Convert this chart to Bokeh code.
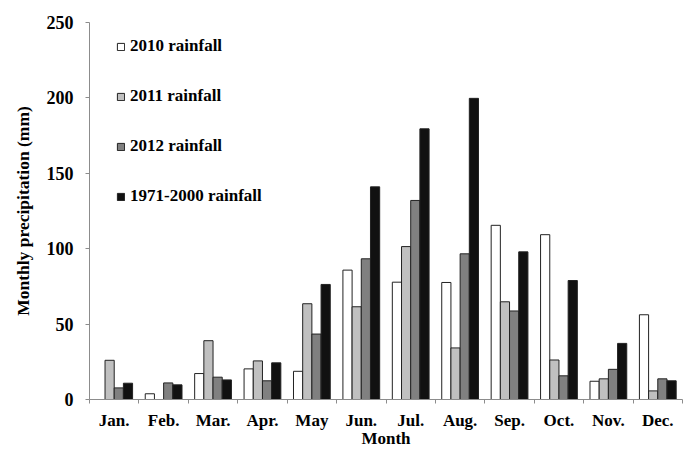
import numpy as np
from bokeh.plotting import figure
from bokeh.models import (Range1d, FixedTicker, Legend, LegendItem, ColumnDataSource)
from bokeh.transform import dodge
from bokeh.embed import file_html
from bokeh.resources import INLINE

months = ["Jan.", "Feb.", "Mar.", "Apr.", "May", "Jun.", "Jul.", "Aug.",
          "Sep.", "Oct.", "Nov.", "Dec."]
rain_2010 = [0, 3.8, 17.2, 20.3, 18.7, 85.8, 77.8, 77.6, 115.5, 109.3, 12.1, 56.2]
rain_2011 = [26.0, 0, 39.0, 25.6, 63.5, 61.5, 101.4, 34.2, 64.8, 26.2, 13.7, 5.7]
rain_2012 = [7.7, 11.0, 14.8, 12.4, 43.4, 93.3, 132.0, 96.6, 58.7, 15.7, 20.0, 13.7]
rain_normal = [10.8, 9.7, 13.0, 24.3, 76.3, 141.0, 179.5, 199.7, 97.9, 78.9, 37.2, 12.4]
series_labels = ["2010 rainfall", "2011 rainfall", "2012 rainfall", "1971-2000 rainfall"]
y_ticks = [0, 50, 100, 150, 200, 250]

FONT = "Liberation Serif"
AXIS_GRAY = "#8c8c8c"

centers = np.arange(len(months)) + 0.5
src = ColumnDataSource(dict(x=centers, a=rain_2010, b=rain_2011, c=rain_2012, d=rain_normal))

p = figure(width=692, height=450, output_backend="svg", toolbar_location=None,
           x_range=Range1d(0, 12), y_range=Range1d(0, 250),
           min_border_left=89, min_border_right=10, min_border_top=22,
           min_border_bottom=50)
p.outline_line_color = None
p.xgrid.grid_line_color = None
p.ygrid.grid_line_color = None

bw = 0.186
offsets = [-1.5 * bw, -0.5 * bw, 0.5 * bw, 1.5 * bw]
fills = ["#ffffff", "#c0c0c0", "#808080", "#111111"]
cols = ["a", "b", "c", "d"]
rends = []
for col, off, fc in zip(cols, offsets, fills):
    r = p.vbar(x=dodge("x", off), top=col, width=bw, bottom=0, source=src,
               fill_color=fc, line_color="#222222", line_width=1)
    rends.append(r)

# x axis
p.xaxis.ticker = FixedTicker(ticks=list(centers), minor_ticks=list(range(0, 13)))
p.xaxis.major_label_overrides = {float(c): m for c, m in zip(centers, months)}
p.xaxis.major_tick_line_color = None
p.xaxis.minor_tick_line_color = AXIS_GRAY
p.xaxis.minor_tick_out = 4
p.xaxis.minor_tick_in = 0
p.xaxis.axis_line_color = AXIS_GRAY
p.xaxis.major_label_standoff = 5
p.xaxis.major_label_text_font = FONT
p.xaxis.major_label_text_font_style = "bold"
p.xaxis.major_label_text_font_size = "17px"
p.xaxis.major_label_text_color = "#000000"
p.xaxis.axis_label = "Month"
p.xaxis.axis_label_standoff = -4
p.xaxis.axis_label_text_baseline = "middle"
p.xaxis.axis_label_text_font = FONT
p.xaxis.axis_label_text_font_style = "bold"
p.xaxis.axis_label_text_font_size = "17px"
p.xaxis.axis_label_text_color = "#000000"

# y axis
p.yaxis.ticker = FixedTicker(ticks=y_ticks)
p.yaxis.axis_line_color = AXIS_GRAY
p.yaxis.major_tick_line_color = AXIS_GRAY
p.yaxis.major_tick_out = 4
p.yaxis.major_tick_in = 0
p.yaxis.minor_tick_line_color = None
p.yaxis.major_label_standoff = 12
p.yaxis.major_label_text_font = FONT
p.yaxis.major_label_text_font_style = "bold"
p.yaxis.major_label_text_font_size = "18px"
p.yaxis.major_label_text_color = "#000000"
p.yaxis.axis_label = "Monthly precipitation (mm)"
p.yaxis.axis_label_text_font = FONT
p.yaxis.axis_label_text_font_style = "bold"
p.yaxis.axis_label_text_font_size = "17.5px"
p.yaxis.axis_label_text_color = "#000000"
p.yaxis.axis_label_standoff = 11

legend = Legend(items=[LegendItem(label=l, renderers=[r]) for l, r in zip(series_labels, rends)],
                location=(27, 193), glyph_width=9, glyph_height=9, label_height=20,
                spacing=30, padding=0, margin=0, label_standoff=5,
                border_line_color=None, background_fill_alpha=0,
                label_text_font=FONT, label_text_font_style="bold",
                label_text_font_size="17px", label_text_color="#000000")
p.add_layout(legend)

open("out.html", "w").write(file_html(p, INLINE))
